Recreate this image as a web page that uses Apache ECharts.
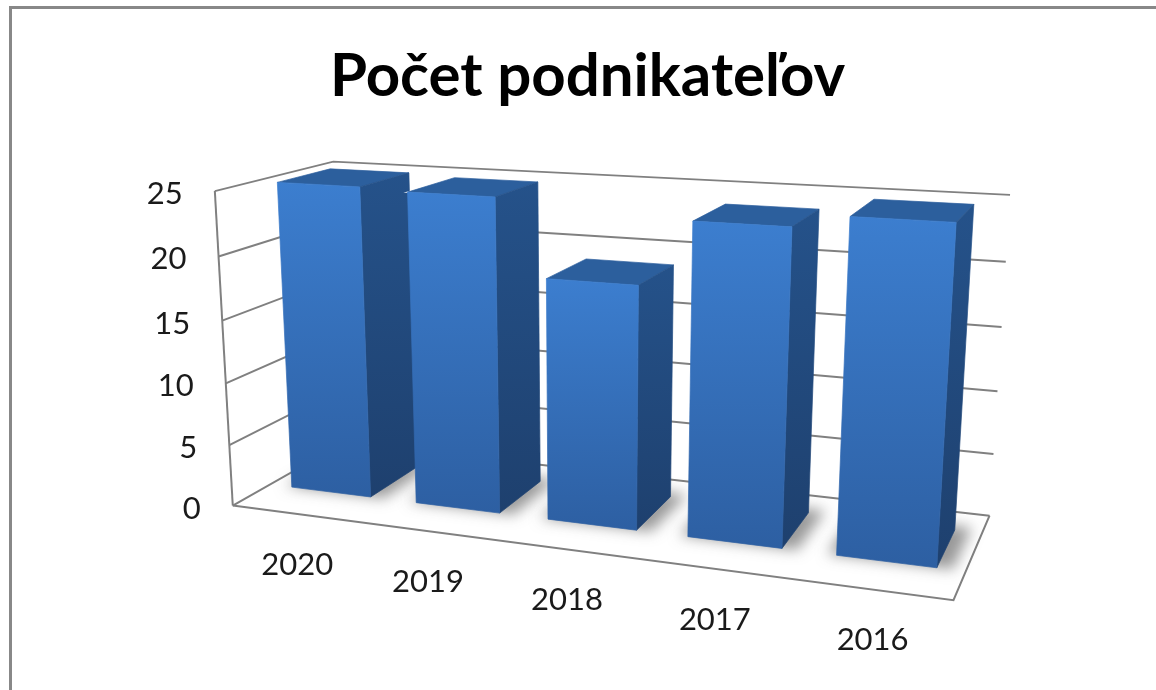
<!DOCTYPE html>
<html><head><meta charset="utf-8">
<style>html,body{margin:0;padding:0;background:#fff}#c{width:1156px;height:690px;filter:blur(0.7px)}</style>
<script src="https://cdn.jsdelivr.net/npm/echarts@6/dist/echarts.min.js"></script>
</head><body><div id="c"></div>
<script>
const titleText = 'Počet podnikateľov';
const categories = ['2020','2019','2018','2017','2016'];
const values = [25, 24.8, 18.9, 23.85, 24.8];
const yTicks = [0,5,10,15,20,25];

// Calibration of the 3D view: box corner [u,height,depth] -> screen point
const view = [
  [[0,0,0],[234,507]],[[1,0,0],[953,600]],[[1,0,1],[990,516]],[[0,0,1],[343,441]],
  [[0,1,0],[214,192]],[[1,1,0],[975,232]],[[1,1,1],[1010,197]],[[0,1,1],[334,161]]
];
const barFill = 0.64, depthFront = 0.31, depthBack = 0.77;
const G = {left:0, top:0, width:1000, height:600};
const OFF = 3000; // the shadow caster sits off-canvas, only its blur lands on the floor

function fit(pts){
  const A=[],b=[];
  pts.forEach(([[X,Y,Z],[x0,y0]])=>{
    const x=x0/1000,y=y0/1000;
    A.push([X,Y,Z,1,0,0,0,0,-x*X,-x*Y,-x*Z]);b.push(x);
    A.push([0,0,0,0,X,Y,Z,1,-y*X,-y*Y,-y*Z]);b.push(y);
  });
  const n=11,M=[];
  for(let i=0;i<n;i++){M.push(new Array(n+1).fill(0));
    for(let j=0;j<n;j++)for(let k=0;k<A.length;k++)M[i][j]+=A[k][i]*A[k][j];
    for(let k=0;k<A.length;k++)M[i][n]+=A[k][i]*b[k];}
  for(let i=0;i<n;i++){let p=i;for(let r=i+1;r<n;r++)if(Math.abs(M[r][i])>Math.abs(M[p][i]))p=r;
    [M[i],M[p]]=[M[p],M[i]];
    for(let r=0;r<n;r++)if(r!==i){const f=M[r][i]/M[i][i];for(let c=i;c<=n;c++)M[r][c]-=f*M[i][c];}}
  return M.map((r,i)=>r[n]/r[i]);
}
const P=fit(view);
function proj(u,h,d){
  const w=P[8]*u+P[9]*h+P[10]*d+1;
  return [1000*(P[0]*u+P[1]*h+P[2]*d+P[3])/w,1000*(P[4]*u+P[5]*h+P[6]*d+P[7])/w];
}
const toU=px=>(px-G.left)/G.width;
const toH=py=>(G.top+G.height-py)/G.height;
const line=(pts,w,c)=>({type:'polyline',shape:{points:pts},style:{stroke:c||'#808080',lineWidth:w||2,fill:null}});
const halo=(pts)=>({type:'polygon',shape:{points:pts},style:{fill:'#fff',stroke:'rgba(255,255,255,0.8)',lineWidth:1.5}});
const face=(pts,fill)=>({type:'polygon',shape:{points:pts},style:{fill:fill,stroke:fill,lineWidth:0.7}});
const grad=(a,b)=>new echarts.graphic.LinearGradient(0,0,0,1,[{offset:0,color:a},{offset:1,color:b}]);
const FONT='Lato, Carlito, sans-serif';

function renderWalls(params,api){
  const t=api.value(0), h=toH(api.coord([0,t])[1]);
  const a=proj(0,h,0),b=proj(0,h,1),c=proj(1,h,1);
  const kids=[line([a,b,c],t===25?1.7:2)];
  if(params.dataIndex===0){
    kids.push(line([proj(0,0,0),proj(1,0,0),proj(1,0,1)],2));
    kids.push(line([proj(0,0,0),proj(0,1,0)],2));
  }
  kids.push({type:'text',style:{text:String(t),x:a[0]-32,y:a[1]+3,fontSize:31,fontFamily:FONT,fill:'#1a1a1a',align:'right',verticalAlign:'middle'}});
  return {type:'group',children:kids};
}
function barBox(api){
  const i=api.value(0),v=api.value(1);
  const p=api.coord([i,v]),half=api.size([1,0])[0]*barFill/2;
  return {u0:toU(p[0]-half),u1:toU(p[0]+half),h:toH(p[1])};
}
function renderShadow(params,api){
  const {u0,u1}=barBox(api);
  const f=depthFront+0.005,k=depthBack+0.05,a=u0-0.012,b=u1+0.02;
  const pts=[proj(a,0,f),proj(b,0,f),proj(b,0,k),proj(a,0,k)].map(p=>[p[0]-OFF,p[1]]);
  return {type:'polygon',shape:{points:pts},
    style:{fill:'#000',shadowBlur:14,shadowOffsetX:OFF,shadowColor:'rgba(70,70,70,0.55)'}};
}
function renderBar(params,api){
  const {u0,u1,h}=barBox(api),f=depthFront,k=depthBack;
  const fa=proj(u0,h,f),fb=proj(u1,h,f),fc=proj(u1,0,f),fd=proj(u0,0,f);
  const ba=proj(u0,h,k),bb=proj(u1,h,k),bc=proj(u1,0,k);
  return {type:'group',children:[
    halo([fa,ba,bb,fb]),
    face([fa,ba,bb,fb],'#2c5f9d'),
    face([fb,bb,bc,fc],grad('#25528a','#1e406e')),
    face([fa,fb,fc,fd],grad('#3c7ecf','#2d5fa2'))
  ]};
}
function renderCat(params,api){
  const p=api.coord([api.value(0),0]),q=proj(toU(p[0]),0,0);
  return {type:'text',style:{text:categories[params.dataIndex],x:q[0]+2,y:q[1]+51,fontSize:31,fontFamily:FONT,fill:'#1a1a1a',align:'center',verticalAlign:'middle'}};
}
const chart=echarts.init(document.getElementById('c'),null,{renderer:'canvas'});
chart.setOption({
  animation:false,backgroundColor:'#fff',
  title:{text:titleText,left:582.5,top:42,textAlign:'center',textStyle:{fontFamily:FONT,fontWeight:'bold',fontSize:60,color:'#000'}},
  grid:{left:G.left,top:G.top,width:G.width,height:G.height,containLabel:false},
  xAxis:{type:'category',data:categories,show:false},
  yAxis:{type:'value',min:0,max:25,interval:5,show:false},
  graphic:[
    {type:'rect',shape:{x:9,y:6,width:3,height:684},style:{fill:'#888'},z:10},
    {type:'rect',shape:{x:9,y:6,width:1147,height:3},style:{fill:'#888'},z:10}
  ],
  series:[
    {type:'custom',name:'walls',coordinateSystem:'cartesian2d',z:1,clip:false,data:yTicks.map(t=>[t]),encode:{y:0},renderItem:renderWalls,silent:true},
    {type:'custom',name:'shadow',coordinateSystem:'cartesian2d',z:2,clip:false,data:values.map((v,i)=>[i,v]),encode:{x:0,y:1},renderItem:renderShadow,silent:true},
    {type:'custom',name:'Počet podnikateľov',coordinateSystem:'cartesian2d',z:3,clip:false,data:values.map((v,i)=>[i,v]),encode:{x:0,y:1},renderItem:renderBar},
    {type:'custom',name:'labels',coordinateSystem:'cartesian2d',z:4,clip:false,data:categories.map((c,i)=>[i]),encode:{x:0},renderItem:renderCat,silent:true}
  ]
});
</script></body></html>
